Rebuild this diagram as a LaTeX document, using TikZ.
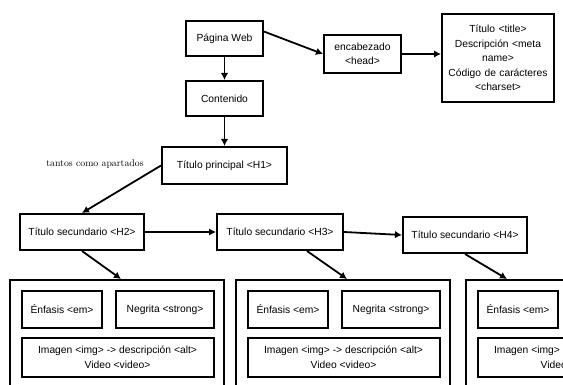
\documentclass[tikz,border=0pt]{standalone}
\usepackage{fontspec}
\setsansfont{Liberation Sans}
\usepackage{tikz}
\usetikzlibrary{arrows.meta}
\usetikzlibrary{positioning}
\tikzset{
  % arrow tip for all connectors
  >={Latex[length=7pt,width=7.5pt]},
  line/.style={draw, line width=1.8pt, ->}
}

\begin{document}
\begin{tikzpicture}[x=1pt, y=-1pt, font=\sffamily\fontsize{10.3}{14.5}\selectfont]
    % Define styles
    \tikzstyle{block} = [rectangle, draw, line width=2pt, inner sep=2pt, align=center, minimum height=36pt]
    \tikzstyle{group} = [rectangle, draw, line width=2pt, minimum width=214pt, minimum height=125pt, anchor=north]
    \tikzstyle{note} = [font=\rmfamily\fontsize{9.8}{11}\selectfont]

    \useasboundingbox (0,0) rectangle (563,385);
    \clip (0,0) rectangle (563,385);

    % Place nodes
    \node [block, minimum width=77pt, minimum height=35pt] (web) at (224.5,38.5) {Página Web};
    \node [block, minimum width=77pt, minimum height=35pt] (cont) at (224.5,98.5) {Contenido};
    \node [block, minimum width=125pt, minimum height=37pt] (h1) at (224.5,165.5) {Título principal <H1>};
    \node [block, minimum width=77pt, minimum height=38pt] (head) at (362.5,54) {encabezado\\<head>};
    \node [block, minimum width=112pt, minimum height=88pt, text width=106pt] (meta) at (498,58)
        {Título <title>\\Descripción <meta\\name>\\Código de carácteres\\<charset>};
    \node [note] (cuantos) at (95,164) {tantos como apartados};
    \node [block, minimum width=124pt] (h2) at (82,232) {Título secundario <H2>};
    \node [block, minimum width=126pt] (h3) at (280,232) {Título secundario <H3>};
    \node [block, minimum width=124pt] (h4) at (465,235) {Título secundario <H4>};

    % one group of tags under each heading
    \foreach \gx/\g in {10/a, 236/b, 466/c} {
        \node [group] (g\g) at (\gx+107,279) {};
        \node [block, minimum width=80pt, minimum height=37pt] (em\g) at (\gx+52,309.5) {Énfasis <em>};
        \node [block, minimum width=98pt, minimum height=37pt] (strong\g) at (\gx+155,309.5) {Negrita <strong>};
        \node [block, minimum width=192pt, minimum height=39pt] (img\g) at (\gx+107.5,357.5)
            {Imagen <img> -> descripción <alt>\\Video <video>};
    }

    % Draw edges
    \path [line] (web) -- (cont);
    \path [line] (cont) -- (h1);
    \path [line] (web.10) -- (head.west);
    \path [line] (head.east) -- (head.east -| meta.west);
    \path [line] (h1.west) -- (h2.north);
    \path [line] (h2) -- (h3);
    \path [line] (h3.east) -- (h4.west);
    \path [line] (h2.south) -- ([xshift=4pt]ga.north);
    \path [line] ([xshift=27pt]h3.south) -- ([xshift=4pt]gb.north);
    \path [line] (h4.south) -- ([xshift=-66pt]gc.north);
\end{tikzpicture}
\end{document}
